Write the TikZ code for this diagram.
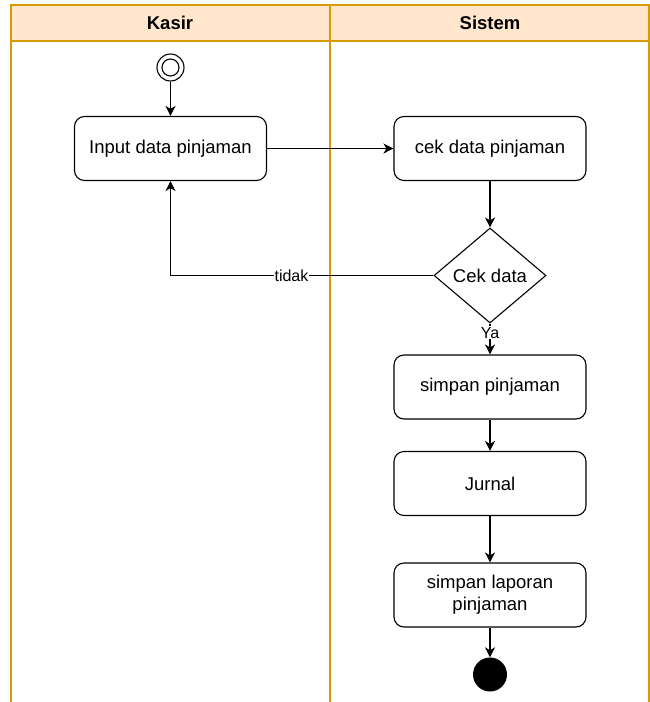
\documentclass[tikz,border=0pt]{standalone}
\usepackage{fontspec}
\setmainfont{Liberation Sans}
\usetikzlibrary{arrows.meta,shapes.geometric}
\definecolor{laneline}{HTML}{D79B00}
\definecolor{lanefill}{HTML}{FFE6CC}
\begin{document}
\begin{tikzpicture}[x=1pt,y=-1pt,
  act/.style={draw, rounded corners=10pt, minimum width=192pt, minimum height=64pt, line width=1.1pt,
    font=\fontsize{18.5}{22}\selectfont, align=center, inner sep=0pt},
  flow/.style={-{Stealth[length=10pt,width=10pt,inset=3pt]}, line width=1.1pt},
  lbl/.style={fill=white, font=\fontsize{16}{18}\selectfont, inner sep=1pt},
  hdr/.style={font=\fontsize{18.5}{22}\selectfont\bfseries},
  pool/.style={draw=laneline, line width=1.3pt}]
\useasboundingbox (0,0) rectangle (650,702);
% swimlanes
\fill[lanefill] (11,5) rectangle (649,41);
\draw[pool] (11,702) -- (11,5) -- (649,5) -- (649,702);
\draw[pool] (11,41) -- (649,41);
\draw[pool] (330,5) -- (330,702);
\node[hdr] (hk) at (170,23) {Kasir};
\node[hdr] (hs) at (490,23) {Sistem};
% nodes
\node[circle, draw, minimum size=27pt, inner sep=0pt, line width=1.1pt] (start) at (170.5,67.5) {};
\node[circle, draw, minimum size=17pt, inner sep=0pt, line width=1.1pt] (starti) at (start) {};
\node[act] (input) at (170.5,148.5) {Input data pinjaman};
\node[act] (cek) at (490,148.5) {cek data pinjaman};
\node[draw, diamond, minimum width=112pt, minimum height=95pt, inner sep=0pt, line width=1.1pt,
  font=\fontsize{18.5}{22}\selectfont] (dec) at (490,275.5) {Cek data};
\node[act] (simpan) at (490,387) {simpan pinjaman};
\node[act] (jurnal) at (490,483.5) {Jurnal};
\node[act] (laporan) at (490,595) {simpan laporan\\pinjaman};
\node[circle, fill=black, minimum size=34pt, inner sep=0pt] (end) at (490,674.5) {};
% flows
\draw[flow] (start) -- (input);
\draw[flow] (input) -- (cek);
\draw[flow] (cek) -- (dec);
\draw[flow] (dec) -- node[lbl, pos=0.3] {Ya} (simpan);
\draw[flow] (dec.west) -| node[lbl, pos=0.27] {tidak} (input.south);
\draw[flow] (simpan) -- (jurnal);
\draw[flow] (jurnal) -- (laporan);
\draw[flow] (laporan) -- (end);
\end{tikzpicture}
\end{document}
